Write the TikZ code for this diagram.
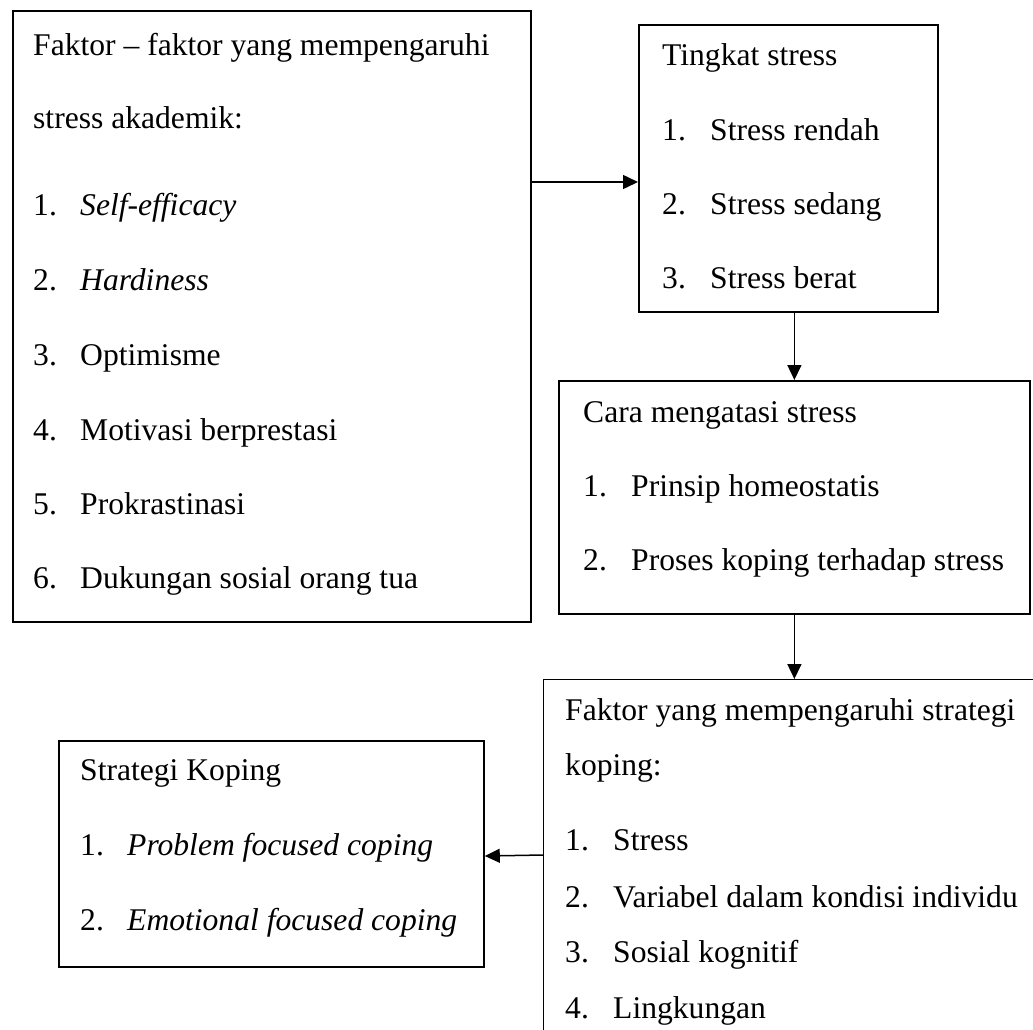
\documentclass[tikz,border=0pt]{standalone}
\usepackage{fontspec}
\setmainfont{Liberation Serif}
\usetikzlibrary{arrows.meta}
\tikzstyle{arrow} = [-{Triangle[length=15pt,width=14pt]}, line width=1.5pt]
\tikzstyle{box} = [draw, rectangle, line width=1.8pt, inner sep=0pt, anchor=north west]
\tikzstyle{txt} = [anchor=base west, inner sep=0pt]

\begin{document}
\begin{tikzpicture}[x=1pt, y=-1pt, font=\fontsize{31.6}{38}\selectfont]
        \useasboundingbox (0,0) rectangle (1033,1029);
        \clip (0,0) rectangle (1033,1029);

        % boxes
        \node[box, minimum width=518pt, minimum height=611pt] at (12,10) (faktor) {};
        \node[box, minimum width=299pt, minimum height=287pt] at (638,24) (tingkat) {};
        \node[box, minimum width=471pt, minimum height=233pt] at (558,380) (cara) {};
        \node[box, line width=1pt, minimum width=510pt, minimum height=380pt] at (543,679) (pengaruh) {};
        \node[box, minimum width=425pt, minimum height=226pt] at (58,740) (koping) {};

        % faktor stress akademik
        \node[txt] at (33,55) (f0) {Faktor – faktor yang mempengaruhi};
        \node[txt] at (33,128) (f1) {stress akademik:};
        \node[txt] at (33,215) (n1) {1.};  \node[txt] at (80,215) (f2) {\itshape Self-efficacy};
        \node[txt] at (33,290) (n2) {2.};  \node[txt] at (80,290) (f3) {\itshape Hardiness};
        \node[txt] at (33,365) (n3) {3.};  \node[txt] at (80,365) (f4) {Optimisme};
        \node[txt] at (33,440) (n4) {4.};  \node[txt] at (80,440) (f5) {Motivasi berprestasi};
        \node[txt] at (33,514) (n5) {5.};  \node[txt] at (80,514) (f6) {Prokrastinasi};
        \node[txt] at (33,588) (n6) {6.};  \node[txt] at (80,588) (f7) {Dukungan sosial orang tua};

        % tingkat stress
        \node[txt] at (662,65) (t0) {Tingkat stress};
        \node[txt] at (662,140) (tn1) {1.}; \node[txt] at (710,140) (t1) {Stress rendah};
        \node[txt] at (662,214) (tn2) {2.}; \node[txt] at (710,214) (t2) {Stress sedang};
        \node[txt] at (662,288) (tn3) {3.}; \node[txt] at (710,288) (t3) {Stress berat};

        % cara mengatasi
        \node[txt] at (583,422) (c0) {Cara mengatasi stress};
        \node[txt] at (583,496) (cn1) {1.}; \node[txt] at (631,496) (c1) {Prinsip homeostatis};
        \node[txt] at (583,570) (cn2) {2.}; \node[txt] at (631,570) (c2) {Proses koping terhadap stress};

        % faktor strategi koping
        \node[txt] at (565,720) (p0) {Faktor yang mempengaruhi strategi};
        \node[txt] at (565,775) (p1) {koping:};
        \node[txt] at (565,850) (pn1) {1.}; \node[txt] at (613,850) (p2) {Stress};
        \node[txt] at (565,907) (pn2) {2.}; \node[txt] at (613,907) (p3) {Variabel dalam kondisi individu};
        \node[txt] at (565,962) (pn3) {3.}; \node[txt] at (613,962) (p4) {Sosial kognitif};
        \node[txt] at (565,1018) (pn4) {4.}; \node[txt] at (613,1018) (p5) {Lingkungan};

        % strategi koping
        \node[txt] at (80,780) (k0) {Strategi Koping};
        \node[txt] at (80,855) (kn1) {1.}; \node[txt] at (127,855) (k1) {\itshape Problem focused coping};
        \node[txt] at (80,930) (kn2) {2.}; \node[txt] at (127,930) (k2) {\itshape Emotional focused coping};

        % arrows
        \draw[arrow] (faktor.east |- 0,182) -- (tingkat.west |- 0,182);
        \draw[arrow] (tingkat.south -| cara.north) -- (cara.north);
        \draw[arrow] (cara.south) -- (cara.south |- pengaruh.north);
        \draw[arrow] (pengaruh.west |- 0,855) -- (koping.east |- 0,856);

      \end{tikzpicture}
\end{document}
